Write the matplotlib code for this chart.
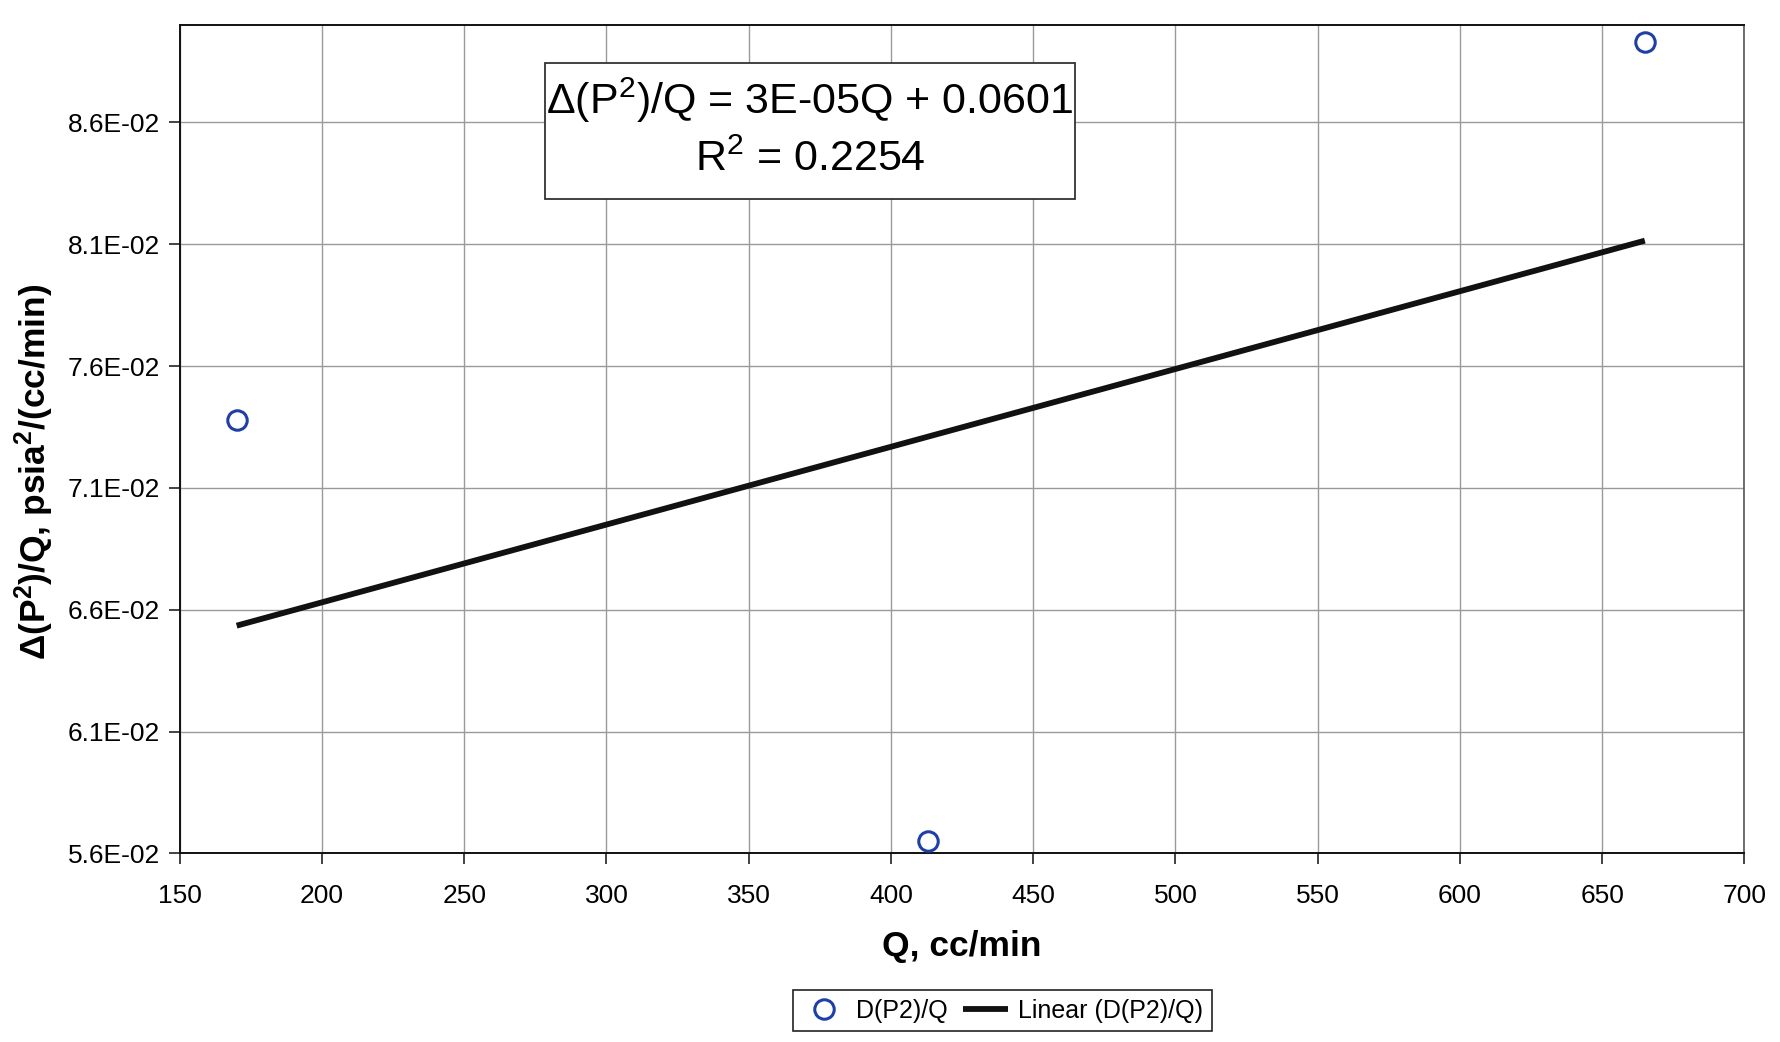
import numpy as np
import matplotlib
matplotlib.use("Agg")
import matplotlib.pyplot as plt
from matplotlib.ticker import FuncFormatter
from matplotlib.patches import Rectangle

plt.rcParams['font.family'] = ['Liberation Sans', 'DejaVu Sans']
plt.rcParams['mathtext.fontset'] = 'custom'
plt.rcParams['mathtext.rm'] = 'Liberation Sans'
plt.rcParams['mathtext.default'] = 'regular'

# data
q_values = [170, 413, 665]
dp2q_values = [0.0738, 0.0565, 0.0893]
x_ticks = [150, 200, 250, 300, 350, 400, 450, 500, 550, 600, 650, 700]
y_ticks = [0.056, 0.061, 0.066, 0.071, 0.076, 0.081, 0.086]
series_label = "D(P2)/Q"
trend_label = "Linear (D(P2)/Q)"
eq_line1 = "Δ(P$^2$)/Q = 3E-05Q + 0.0601"
eq_line2 = "R$^2$ = 0.2254"

fig = plt.figure(figsize=(17.8, 10.42), dpi=100)
ax = fig.add_axes([0.101, 0.181, 0.879, 0.795])

ax.plot(q_values, dp2q_values, linestyle='none', marker='o', markersize=14,
        markerfacecolor='none', markeredgecolor='#1f3fa6', markeredgewidth=2.2,
        label=series_label, zorder=4)

coef = np.polyfit(q_values, dp2q_values, 1)
xl = np.array([min(q_values), max(q_values)])
ax.plot(xl, np.polyval(coef, xl), color='#111111', linewidth=4.2,
        label=trend_label, zorder=3, solid_capstyle='butt')

ax.set_xlim(150, 700)
ax.set_ylim(0.056, 0.090)
ax.set_xticks(x_ticks)
ax.set_yticks(y_ticks)
ax.yaxis.set_major_formatter(FuncFormatter(lambda v, p: f"{v:.1E}"))
ax.grid(True, color='#9a9a9a', linewidth=1.0)
ax.set_axisbelow(True)
ax.tick_params(axis='both', labelsize=19, length=8, width=1.2, color='#222222')
ax.tick_params(axis='x', pad=14)
ax.tick_params(axis='y', pad=6)
for s in ['left', 'bottom', 'top']:
    ax.spines[s].set_color('#111111')
    ax.spines[s].set_linewidth(1.4)
ax.spines['right'].set_color('#555555')
ax.spines['right'].set_linewidth(1.2)

ax.set_xlabel("Q, cc/min", fontsize=25.5, fontweight='bold', labelpad=16)
ax.set_ylabel("Δ(P$^2$)/Q, psia$^2$/(cc/min)", fontsize=25.5, fontweight='bold')
ax.yaxis.set_label_coords(-0.079, 0.46)

# equation box
fig.patches.append(Rectangle((0.306, 0.809), 0.298, 0.131, transform=fig.transFigure,
                             facecolor='white', edgecolor='#333333', linewidth=1.3, zorder=5))
fig.text(0.455, 0.904, eq_line1, fontsize=31, ha='center', va='center', zorder=6)
fig.text(0.455, 0.847, eq_line2, fontsize=31, ha='center', va='center', zorder=6)

leg = fig.legend(loc='center', bbox_to_anchor=(0.563, 0.030), ncol=2, fontsize=18,
                 frameon=True, fancybox=False, edgecolor='#222222', framealpha=1,
                 handlelength=1.8, handletextpad=0.4, columnspacing=0.6,
                 borderpad=0.35)
leg.get_frame().set_linewidth(1.2)

fig.savefig("out.png", dpi=100, facecolor='white')
